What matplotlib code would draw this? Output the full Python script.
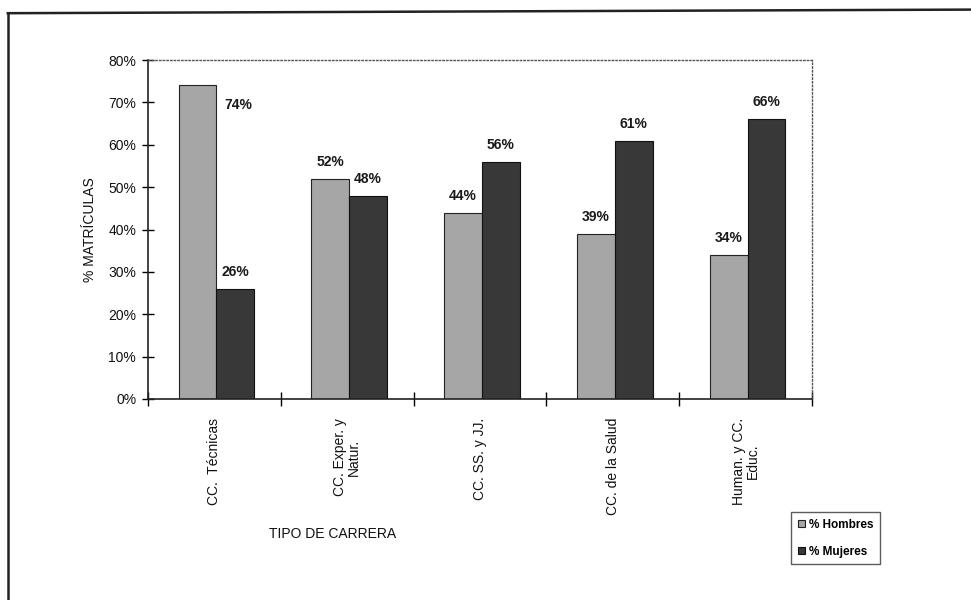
# Import libraries
import numpy as np
import matplotlib
matplotlib.use("Agg")
import matplotlib.pyplot as plt
from matplotlib.lines import Line2D

plt.rcParams['font.family'] = ['Liberation Sans', 'DejaVu Sans']

# Data
categorias = ["CC.  Técnicas", "CC. Exper. y\nNatur.", "CC. SS. y JJ.",
              "CC. de la Salud", "Human. y CC.\nEduc."]
hombres = [74, 52, 44, 39, 34]
mujeres = [26, 48, 56, 61, 66]
series_names = ["% Hombres", "% Mujeres"]
yticks = [0, 10, 20, 30, 40, 50, 60, 70, 80]

# Figure and axes
fig = plt.figure(figsize=(9.71, 6.0), dpi=100)
ax = fig.add_axes([0.1524, 0.335, 0.6839, 0.565])

x = np.arange(len(categorias))
w = 0.285
b1 = ax.bar(x - w / 2 + 0.015, hombres, w, color="#a6a6a6", edgecolor="#222222",
            linewidth=0.8, label=series_names[0])
b2 = ax.bar(x + w / 2 + 0.015, mujeres, w, color="#383838", edgecolor="#111111",
            linewidth=0.8, label=series_names[1])

# Value labels (the first one sits beside its bar, as in the original)
for i, (h, m) in enumerate(zip(hombres, mujeres)):
    if i == 0:
        ax.text(x[i] + w / 2 + 0.04, h - 4.6, f"{h}%", ha="center", va="center",
                fontsize=10, fontweight="bold", color="#1a1a1a")
    else:
        ax.text(x[i] - w / 2 + 0.015, h + 4.0, f"{h}%", ha="center", va="center",
                fontsize=10, fontweight="bold", color="#1a1a1a")
    ax.text(x[i] + w / 2 + 0.015, m + 4.0, f"{m}%", ha="center", va="center",
            fontsize=10, fontweight="bold", color="#1a1a1a")

# Axes limits and ticks
ax.set_xlim(-0.5, len(categorias) - 0.5)
ax.set_ylim(0, 80)
ax.set_yticks(yticks)
ax.set_yticklabels([f"{t}%" for t in yticks], fontsize=10, color="#111111")
ax.set_xticks(np.arange(len(categorias) + 1) - 0.5)
ax.set_xticklabels([])
ax.tick_params(axis="y", direction="inout", length=9, width=1, pad=4)
ax.tick_params(axis="x", direction="inout", length=10, width=1)

for i, c in enumerate(categorias):
    ax.text(x[i], -4.5, c, rotation=90, ha="center", va="top",
            fontsize=10, color="#111111", linespacing=1.0)

ax.set_ylabel("% MATRÍCULAS", fontsize=10, color="#111111", labelpad=8)
fig.text(0.342, 0.11, "TIPO DE CARRERA", ha="center", va="center",
         fontsize=10, color="#111111")

# Spines
for s in ["left", "bottom"]:
    ax.spines[s].set_linewidth(1.2)
    ax.spines[s].set_color("#222222")
for s in ["top", "right"]:
    ax.spines[s].set_linestyle(":")
    ax.spines[s].set_linewidth(1.0)
    ax.spines[s].set_color("#555555")

# Legend
leg = fig.legend(handles=[b1, b2], loc="upper left", bbox_to_anchor=(0.809, 0.156),
                 prop={"size": 8.5, "weight": "bold"},
                 frameon=True, fancybox=False, handlelength=0.6,
                 handleheight=0.6, handletextpad=0.3, borderpad=0.55,
                 labelspacing=1.25, edgecolor="#333333")
leg.get_frame().set_linewidth(1.0)

# Outer frame of the scanned figure
fig.add_artist(Line2D([0.008, 0.008], [0.0, 0.978], transform=fig.transFigure,
                      color="#222222", linewidth=1.8))
fig.add_artist(Line2D([0.008, 1.0], [0.978, 0.984], transform=fig.transFigure,
                      color="#222222", linewidth=1.8))

fig.savefig("out.png", dpi=100)
